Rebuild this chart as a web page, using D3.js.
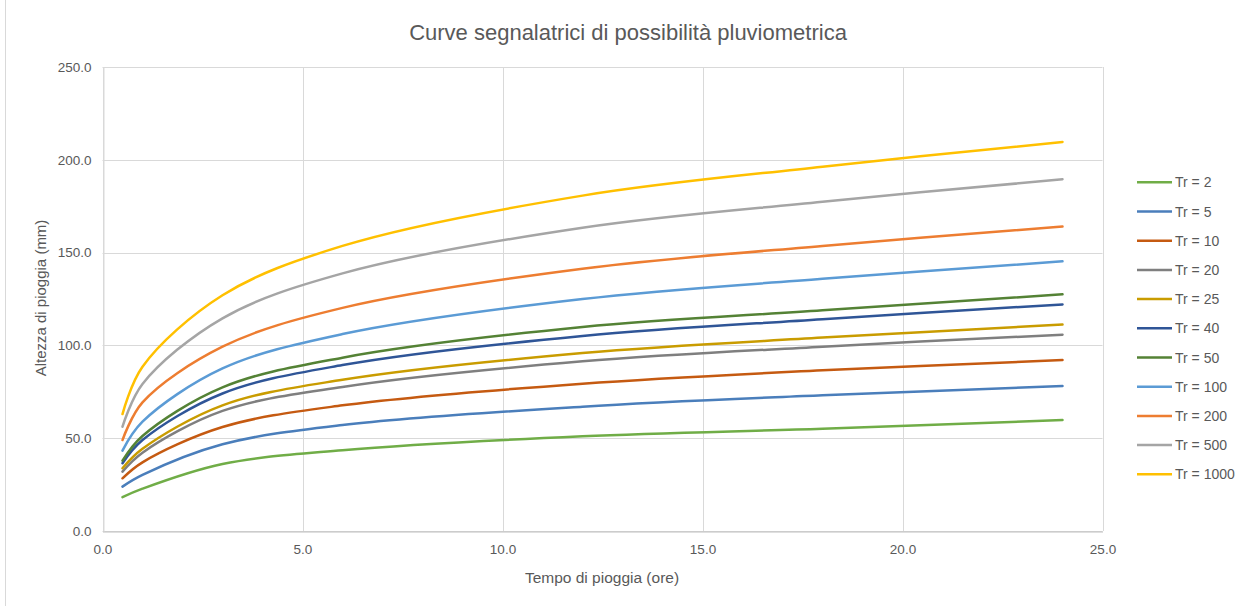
<!DOCTYPE html>
<html>
<head>
<meta charset="utf-8">
<script src="https://cdn.jsdelivr.net/npm/d3@7"></script>
<style>
  html, body { margin: 0; padding: 0; background: #fff; }
  svg { display: block; }
  text { font-family: "Liberation Sans", "DejaVu Sans", sans-serif; fill: #595959; }
</style>
</head>
<body>
<svg id="chart" width="1250" height="606"></svg>
<script>
// ---- data ----
const durations = [0.5, 1, 3, 6, 12, 18, 24];
const seriesNames = ["Tr = 2", "Tr = 5", "Tr = 10", "Tr = 20", "Tr = 25", "Tr = 40", "Tr = 50", "Tr = 100", "Tr = 200", "Tr = 500", "Tr = 1000"];
const tr2    = [18.2, 22.8, 36.1, 43.5, 51.0, 55.1, 59.8];
const tr5    = [23.9, 30.2, 46.7, 57.1, 67.0, 73.1, 78.1];
const tr10   = [28.4, 37.0, 56.0, 67.7, 79.4, 86.6, 92.1];
const tr20   = [32.0, 42.2, 64.7, 77.6, 91.4, 99.3, 105.8];
const tr25   = [33.8, 44.3, 67.7, 81.5, 95.9, 104.2, 111.2];
const tr40   = [36.5, 49.0, 74.1, 89.4, 105.1, 114.1, 122.1];
const tr50   = [37.9, 51.2, 77.4, 93.4, 109.9, 118.9, 127.5];
const tr100  = [43.3, 58.9, 87.6, 106.1, 125.0, 135.9, 145.3];
const tr200  = [49.0, 69.3, 99.3, 120.2, 141.3, 153.6, 164.0];
const tr500  = [56.2, 79.2, 114.6, 138.8, 163.4, 177.4, 189.5];
const tr1000 = [63.0, 88.5, 127.0, 153.6, 180.7, 196.3, 209.6];
const seriesValues = [tr2, tr5, tr10, tr20, tr25, tr40, tr50, tr100, tr200, tr500, tr1000];
const colors = ["#70AD47", "#4A7EBB", "#C55A11", "#7F7F7F", "#C99C00", "#2F5597", "#548235", "#5B9BD5", "#ED7D31", "#A5A5A5", "#FFC000"];
const xTicks = [0, 5, 10, 15, 20, 25];
const yTicks = [0, 50, 100, 150, 200, 250];
const title = "Curve segnalatrici di possibilità pluviometrica";
const xTitle = "Tempo di pioggia (ore)";
const yTitle = "Altezza di pioggia (mm)";

// ---- layout ----
const svg = d3.select("#chart");
const x = d3.scaleLinear().domain([0, 25]).range([102.5, 1102.5]);
const y = d3.scaleLinear().domain([0, 250]).range([531, 67]);
const fmt = d3.format(".1f");

// outer border (left edge visible)
svg.append("line").attr("x1", 5.5).attr("x2", 5.5).attr("y1", 0).attr("y2", 606)
  .attr("stroke", "#D9D9D9").attr("stroke-width", 1);

// gridlines
const grid = svg.append("g");
grid.selectAll(".hg").data(yTicks).join("line")
  .attr("x1", x(0)).attr("x2", x(25))
  .attr("y1", d => Math.round(y(d)) + 0.5).attr("y2", d => Math.round(y(d)) + 0.5)
  .attr("stroke", "#D9D9D9").attr("stroke-width", 1);
grid.selectAll(".vg").data(xTicks).join("line")
  .attr("x1", d => Math.round(x(d)) + 0.5).attr("x2", d => Math.round(x(d)) + 0.5)
  .attr("y1", y(250)).attr("y2", y(0))
  .attr("stroke", "#D9D9D9").attr("stroke-width", 1);

// axes
const xAxis = svg.append("g").attr("transform", `translate(0,${Math.round(y(0)) + 0.5})`)
  .call(d3.axisBottom(x).tickValues(xTicks).tickFormat(fmt).tickSize(0).tickPadding(13));
xAxis.select(".domain").attr("stroke", "#BFBFBF").attr("stroke-width", 1);
xAxis.selectAll("text").style("font-size", "13.5px").attr("fill", "#595959");

const yAxis = svg.append("g").attr("transform", `translate(${Math.round(x(0)) + 0.5},0)`)
  .call(d3.axisLeft(y).tickValues(yTicks).tickFormat(fmt).tickSize(0).tickPadding(12));
yAxis.select(".domain").attr("stroke", "#D9D9D9").attr("stroke-width", 1);
yAxis.selectAll("text").style("font-size", "13.5px").attr("fill", "#595959");

// lines
const line = d3.line()
  .x((d, i) => x(durations[i]))
  .y(d => y(d))
  .curve(d3.curveCatmullRom.alpha(0.5));
svg.append("g").selectAll("path").data(seriesValues).join("path")
  .attr("d", d => line(d))
  .attr("fill", "none")
  .attr("stroke", (d, i) => colors[i])
  .attr("stroke-width", 2.5)
  .attr("stroke-linecap", "round")
  .attr("stroke-linejoin", "round");

// titles
svg.append("text").attr("x", 628).attr("y", 40).attr("text-anchor", "middle")
  .style("font-size", "22px").text(title);
svg.append("text").attr("x", 602).attr("y", 583).attr("text-anchor", "middle")
  .style("font-size", "15.5px").text(xTitle);
svg.append("text").attr("transform", "translate(46,298) rotate(-90)").attr("text-anchor", "middle")
  .style("font-size", "15px").text(yTitle);

// legend
const legend = svg.append("g");
const rows = legend.selectAll("g").data(seriesNames).join("g")
  .attr("transform", (d, i) => `translate(0,${182.3 + i * 29.2})`);
rows.append("line").attr("x1", 1137).attr("x2", 1172).attr("y1", 0).attr("y2", 0)
  .attr("stroke", (d, i) => colors[i]).attr("stroke-width", 2.5);
rows.append("text").attr("x", 1175).attr("y", 5).style("font-size", "14px").text(d => d);
</script>
</body>
</html>
